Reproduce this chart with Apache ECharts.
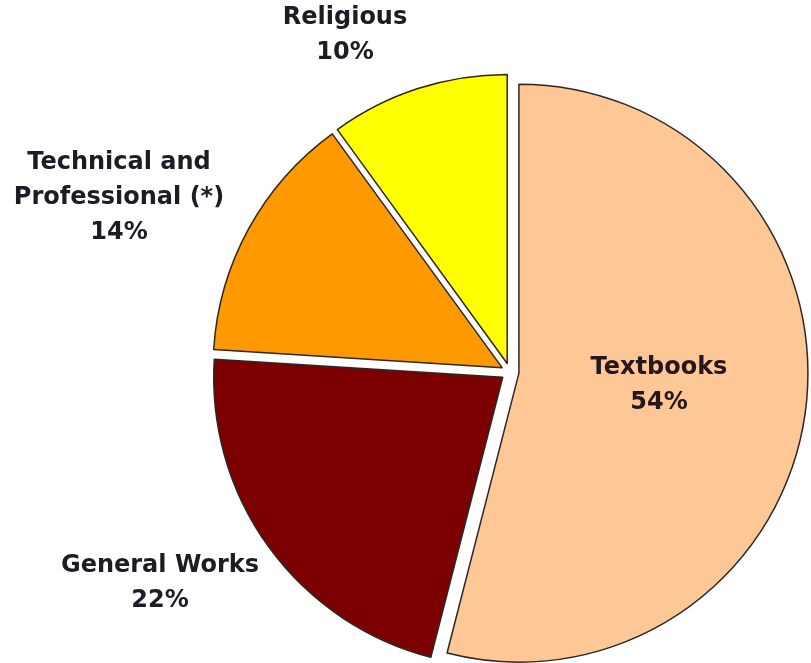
<!DOCTYPE html>
<html>
<head>
<meta charset="utf-8">
<script src="https://cdn.jsdelivr.net/npm/echarts@6/dist/echarts.min.js"></script>
<style>
  html, body { margin: 0; padding: 0; background: #ffffff; }
  #chart { width: 811px; height: 663px; }
</style>
</head>
<body>
<div id="chart"></div>
<script>
// Book sales by category (share of total, %)
var categories = ['Textbooks', 'General Works', 'Technical and\nProfessional (*)', 'Religious'];
var shares = [54, 22, 14, 10];
var sliceColors = ['#fdc896', '#7d0000', '#ff9900', '#ffff00'];

// Canvas position (centre of text block) for each category label
var labelSpots = [[659, 385], [160, 583], [119, 198], [345, 35]];

var chart = echarts.init(document.getElementById('chart'), null, { renderer: 'canvas' });

var total = shares.reduce(function (a, b) { return a + b; }, 0);

var pieData = categories.map(function (name, i) {
  return {
    name: name,
    value: shares[i],
    selected: true,
    itemStyle: { color: sliceColors[i] }
  };
});

var labelTexts = categories.map(function (name, i) {
  var pct = Math.round(shares[i] / total * 100);
  return {
    type: 'text',
    x: labelSpots[i][0],
    y: labelSpots[i][1],
    z: 10,
    silent: true,
    style: {
      text: name + '\n' + pct + '%',
      align: 'center',
      verticalAlign: 'middle',
      fontFamily: 'DejaVu Sans',
      fontWeight: 'bold',
      fontSize: 24,
      lineHeight: 35,
      fill: i === 0 ? '#24161a' : '#1c1c26'
    }
  };
});

chart.setOption({
  animation: false,
  backgroundColor: '#ffffff',
  graphic: labelTexts,
  series: [{
    type: 'pie',
    center: [510, 372],
    radius: [0, 289],
    startAngle: 90,
    clockwise: true,
    selectedMode: 'multiple',
    selectedOffset: 9,
    emphasis: { disabled: true },
    itemStyle: {
      borderColor: '#2e2626',
      borderWidth: 1.5
    },
    label: { show: false },
    labelLine: { show: false },
    data: pieData
  }]
});
</script>
</body>
</html>
